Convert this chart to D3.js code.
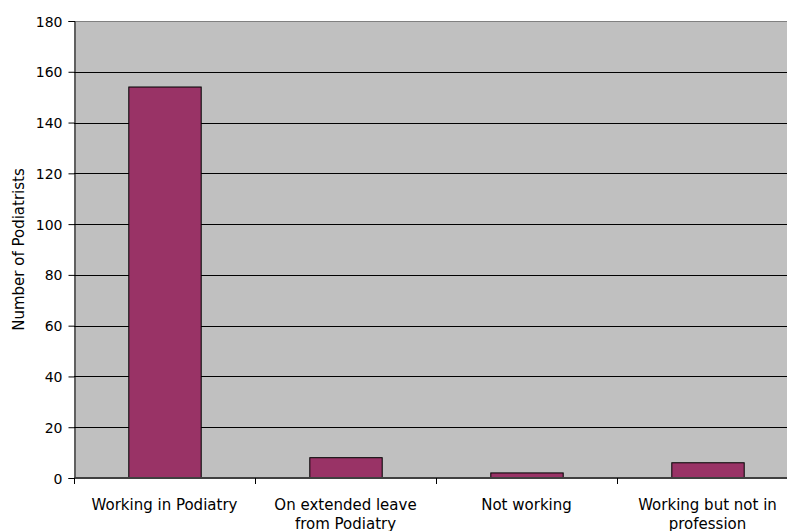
<!DOCTYPE html>
<html><head><meta charset="utf-8">
<script src="https://cdn.jsdelivr.net/npm/d3@7"></script>
<style>
html,body{margin:0;padding:0;background:#fff;overflow:hidden;}
svg text{font-family:"DejaVu Sans",sans-serif;fill:#000;}
</style></head>
<body>
<svg id="c" width="787" height="531"></svg>
<script>
const categories = [["Working in Podiatry"], ["On extended leave", "from Podiatry"], ["Not working"], ["Working but not in", "profession"]];
const values = [154, 8, 2, 6];
const yTicks = [0, 20, 40, 60, 80, 100, 120, 140, 160, 180];
const yTitle = "Number of Podiatrists";

const svg = d3.select("#c");
const pL = 74, pR = 798, pT = 21, pB = 478;
const x = d3.scaleBand().domain(d3.range(values.length)).range([pL, pR]).paddingInner(0).paddingOuter(0);
const y = d3.scaleLinear().domain([0, 180]).range([pB, pT]);

// plot background
svg.append("rect").attr("x", pL).attr("y", pT).attr("width", pR - pL).attr("height", pB - pT).attr("fill", "#c0c0c0");
// top border
svg.append("line").attr("x1", pL).attr("x2", pR).attr("y1", pT + 0.5).attr("y2", pT + 0.5).attr("stroke", "#808080").attr("stroke-width", 1);

// gridlines
svg.append("g").selectAll("line").data(yTicks.filter(d => d > 0 && d < 180)).join("line")
  .attr("x1", pL).attr("x2", pR)
  .attr("y1", d => Math.round(y(d)) + 0.5).attr("y2", d => Math.round(y(d)) + 0.5)
  .attr("stroke", "#000").attr("stroke-width", 1);

// bars
const bw = x.bandwidth() * 0.4;
svg.append("g").selectAll("rect").data(values).join("rect")
  .attr("x", (d, i) => x(i) + x.bandwidth() / 2 - bw / 2 + 0.5)
  .attr("y", d => y(d))
  .attr("width", bw)
  .attr("height", d => pB - y(d))
  .attr("fill", "#993366").attr("stroke", "#000").attr("stroke-width", 1);

// y axis
const ya = svg.append("g").attr("transform", `translate(${pL + 0.5},0)`)
  .call(d3.axisLeft(y).tickValues(yTicks).tickSize(6).tickPadding(6).tickFormat(d3.format("d")));
ya.select(".domain").attr("stroke", "#000");
ya.selectAll(".tick line").attr("stroke", "#000");
ya.selectAll("text").attr("font-size", 14).attr("dy", "0.36em").style("font-family", "DejaVu Sans");

// x axis
const xa = svg.append("g").attr("transform", `translate(0,${pB})`);
xa.append("line").attr("x1", pL).attr("x2", pR).attr("y1", 0).attr("y2", 0).attr("stroke", "#404040").attr("stroke-width", 2);
xa.selectAll("line.tk").data(d3.range(values.length)).join("line").attr("class", "tk")
  .attr("x1", i => x(i) + 0.5).attr("x2", i => x(i) + 0.5).attr("y1", 0).attr("y2", 6)
  .attr("stroke", "#000");
const lbl = xa.selectAll("text.cat").data(categories).join("text").attr("class", "cat")
  .attr("text-anchor", "middle").attr("font-size", 15)
  .attr("x", (d, i) => x(i) + x.bandwidth() / 2).attr("y", 32);
lbl.selectAll("tspan").data(d => d).join("tspan")
  .attr("x", function() { return d3.select(this.parentNode).attr("x"); })
  .attr("dy", (d, j) => j === 0 ? 0 : 19).text(d => d);

// y title
svg.append("text").attr("transform", `translate(24,${(pT + pB) / 2}) rotate(-90)`)
  .attr("text-anchor", "middle").attr("font-size", 15).text(yTitle);
</script>
</body></html>
